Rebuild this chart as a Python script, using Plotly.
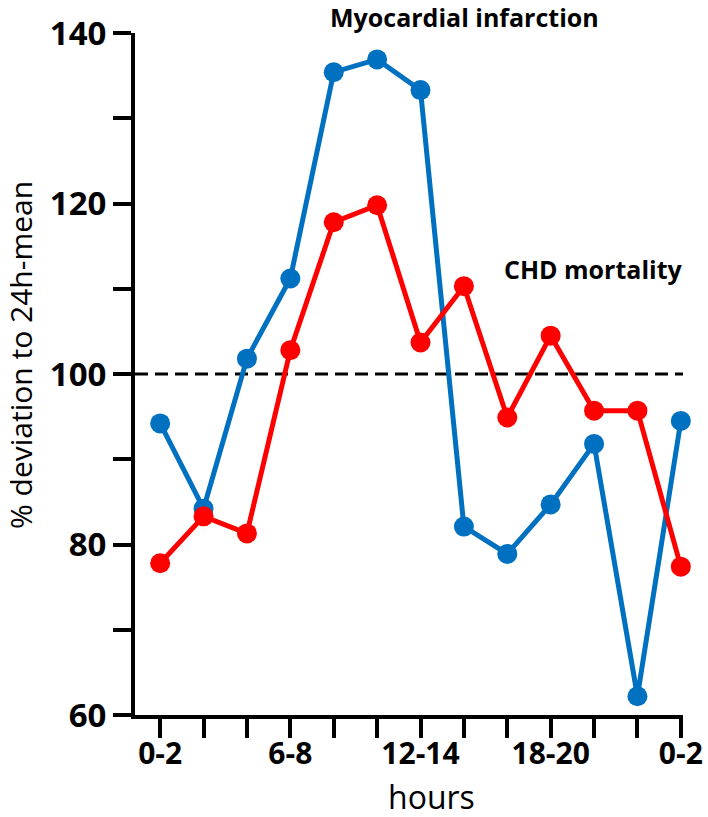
import plotly.graph_objects as go

hours = ["0-2", "2-4", "4-6", "6-8", "8-10", "10-12", "12-14", "14-16",
         "16-18", "18-20", "20-22", "22-24", "0-2"]
mi_values = [94.2, 84.2, 101.8, 111.2, 135.4, 136.9, 133.3, 82.1, 78.9, 84.7, 91.8, 62.2, 94.5]
chd_values = [77.8, 83.3, 81.3, 102.8, 117.8, 119.8, 103.7, 110.3, 94.9, 104.5, 95.7, 95.7, 77.4]
y_ticks = [60, 80, 100, 120, 140]
reference_level = 100

FONT = "Open Sans"
x_idx = list(range(len(hours)))
ticktext = [h if i % 3 == 0 else "" for i, h in enumerate(hours)]

W, H = 708, 817
L, R, T, B = 135, 683, 33, 715
PW, PH = R - L, B - T


def px(x):
    return (x - L) / PW


def py(y):
    return 1 - (y - T) / PH


fig = go.Figure()
fig.add_trace(go.Scatter(x=x_idx, y=mi_values, mode="lines+markers",
                         line=dict(color="#0070C0", width=5),
                         marker=dict(color="#0070C0", size=20),
                         name="Myocardial infarction", cliponaxis=False))
fig.add_trace(go.Scatter(x=x_idx, y=chd_values, mode="lines+markers",
                         line=dict(color="#FF0000", width=5),
                         marker=dict(color="#FF0000", size=20),
                         name="CHD mortality", cliponaxis=False))

fig.add_shape(type="line", xref="paper", x0=0, x1=1, yref="y",
              y0=reference_level, y1=reference_level,
              line=dict(color="black", width=3, dash="13px,7px"), layer="below")

fig.update_layout(
    width=W, height=H,
    margin=dict(l=L, r=W - R, t=T, b=H - B, autoexpand=False),
    paper_bgcolor="white", plot_bgcolor="white",
    showlegend=False,
    font=dict(family=FONT, color="black"),
    xaxis=dict(range=[-0.58, 12.05], tickvals=x_idx, ticktext=ticktext,
               automargin=False, ticklabeloverflow="allow",
               showgrid=False, zeroline=False, showline=True, linecolor="black",
               linewidth=4, ticks="outside", ticklen=19, tickwidth=4, tickcolor="black",
               ticklabelstandoff=-10,
               tickfont=dict(family=FONT, size=30, weight="bold", color="black")),
    yaxis=dict(range=[60, 140], tickvals=y_ticks, automargin=False,
               showgrid=False, zeroline=False, showline=True, linecolor="black",
               linewidth=4, ticks="outside", ticklen=18, tickwidth=4, tickcolor="black",
               minor=dict(dtick=10, ticks="outside", ticklen=18, tickwidth=4, tickcolor="black"),
               tickfont=dict(family=FONT, size=33, weight="bold", color="black")),
    annotations=[
        dict(text="Myocardial infarction", xref="paper", yref="paper",
             x=px(464), y=py(17), xanchor="center", yanchor="middle", showarrow=False,
             font=dict(family=FONT, size=25, weight="bold", color="black")),
        dict(text="CHD mortality", xref="paper", yref="paper",
             x=px(593), y=py(269), xanchor="center", yanchor="middle", showarrow=False,
             font=dict(family=FONT, size=25, weight="bold", color="black")),
        dict(text="hours", xref="paper", yref="paper",
             x=px(431), y=py(797), xanchor="center", yanchor="middle", showarrow=False,
             font=dict(family=FONT, size=32, color="black")),
        dict(text="% deviation to 24h-mean", xref="paper", yref="paper",
             x=px(20), y=py(355), xanchor="center", yanchor="middle", showarrow=False,
             textangle=-90, font=dict(family=FONT, size=30, color="black")),
    ],
)

fig.write_html("out.html", config={"displayModeBar": False},
               post_script="document.body.style.margin='0';document.body.style.overflow='hidden';")
